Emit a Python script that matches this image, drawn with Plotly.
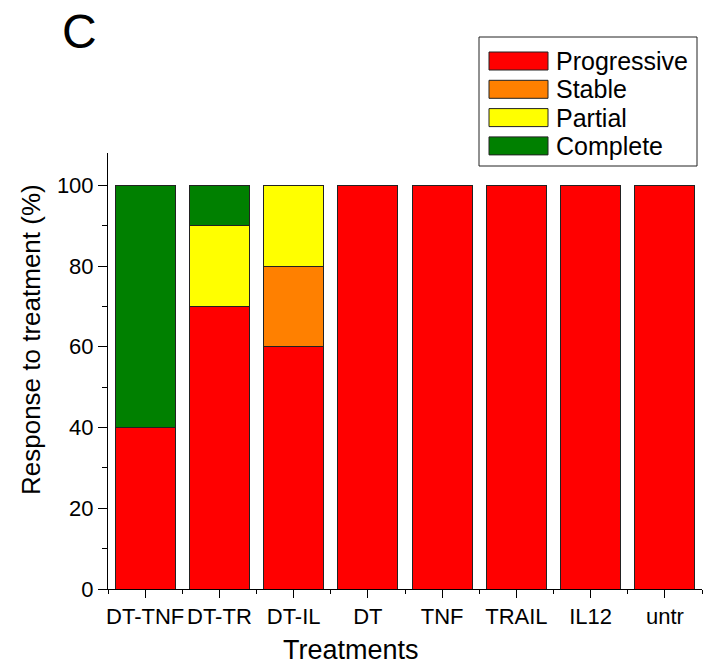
import plotly.graph_objects as go

# Treatment groups and the share of each response class (%)
treatments = ["DT-TNF", "DT-TR", "DT-IL", "DT", "TNF", "TRAIL", "IL12", "untr"]
progressive = [40, 70, 60, 100, 100, 100, 100, 100]
stable = [0, 0, 20, 0, 0, 0, 0, 0]
partial = [0, 20, 20, 0, 0, 0, 0, 0]
complete = [60, 10, 0, 0, 0, 0, 0, 0]

series_names = ["Progressive", "Stable", "Partial", "Complete"]
series_values = [progressive, stable, partial, complete]
series_colors = ["#FF0000", "#FF8000", "#FFFF00", "#008000"]

FONT = "Liberation Sans, Arial, sans-serif"

W, H = 704, 668
L, R, T, B = 108, 2, 153, 79
PW, PH = W - L - R, H - T - B


def px_x(p):
    return (p - L) / PW


def px_y(p):
    return (H - B - p) / PH


xpos = list(range(len(treatments)))

fig = go.Figure()
for name, vals, col in zip(series_names, series_values, series_colors):
    fig.add_trace(go.Bar(
        x=xpos,
        y=[v if v else None for v in vals],
        name=name,
        width=0.81,
        marker=dict(color=col, line=dict(color="#222222", width=1)),
        showlegend=False,
    ))

# Boxed legend with wide swatches
shapes = [dict(type="rect", xref="paper", yref="paper",
               x0=px_x(479), x1=px_x(697), y0=px_y(166), y1=px_y(37),
               line=dict(color="#222222", width=1), fillcolor="white")]
annotations = []
for i, (name, col) in enumerate(zip(series_names, series_colors)):
    top = 52 + i * 28.3
    shapes.append(dict(type="rect", xref="paper", yref="paper",
                       x0=px_x(489), x1=px_x(548), y0=px_y(top + 18), y1=px_y(top),
                       line=dict(color="#222222", width=1), fillcolor=col))
    annotations.append(dict(xref="paper", yref="paper", x=px_x(554), y=px_y(top + 9),
                            text=name, showarrow=False, xanchor="left", yanchor="middle",
                            font=dict(family=FONT, size=25, color="black")))

# Axis titles and panel letter
annotations.append(dict(xref="paper", yref="paper", x=px_x(351), y=px_y(650),
                        text="Treatments", showarrow=False, xanchor="center", yanchor="middle",
                        font=dict(family=FONT, size=27, color="black")))
annotations.append(dict(xref="paper", yref="paper", x=px_x(31), y=px_y(340),
                        text="Response to treatment (%)", showarrow=False, textangle=-90,
                        xanchor="center", yanchor="middle",
                        font=dict(family=FONT, size=26, color="black")))
annotations.append(dict(xref="paper", yref="paper", x=px_x(79), y=px_y(32),
                        text="C", showarrow=False, xanchor="center", yanchor="middle",
                        font=dict(family=FONT, size=48, color="black")))

fig.update_layout(
    width=W, height=H,
    margin=dict(l=L, r=R, t=T, b=B, pad=0),
    barmode="stack",
    plot_bgcolor="white", paper_bgcolor="white",
    font=dict(family=FONT, size=22, color="black"),
    shapes=shapes,
    annotations=annotations,
    xaxis=dict(
        range=[-0.5, len(treatments) - 0.5],
        tickmode="array", tickvals=xpos, ticktext=treatments,
        tickangle=0,
        ticks="outside", ticklen=8, tickwidth=1, tickcolor="black",
        minor=dict(ticks="outside", ticklen=4, tickwidth=1, tickcolor="black",
                   tickmode="linear", tick0=-0.5, dtick=1),
        showline=True, linecolor="black", linewidth=1,
        showgrid=False, zeroline=False,
        tickfont=dict(family=FONT, size=22, color="black"),
    ),
    yaxis=dict(
        range=[0, 108],
        tickmode="linear", tick0=0, dtick=20,
        ticks="outside", ticklen=9, tickwidth=1, tickcolor="black",
        minor=dict(ticks="outside", ticklen=5, tickwidth=1, tickcolor="black",
                   tickmode="linear", tick0=10, dtick=20),
        showline=True, linecolor="black", linewidth=1,
        showgrid=False, zeroline=False,
        tickfont=dict(family=FONT, size=22, color="black"),
    ),
)

fig.write_html("out.html")
